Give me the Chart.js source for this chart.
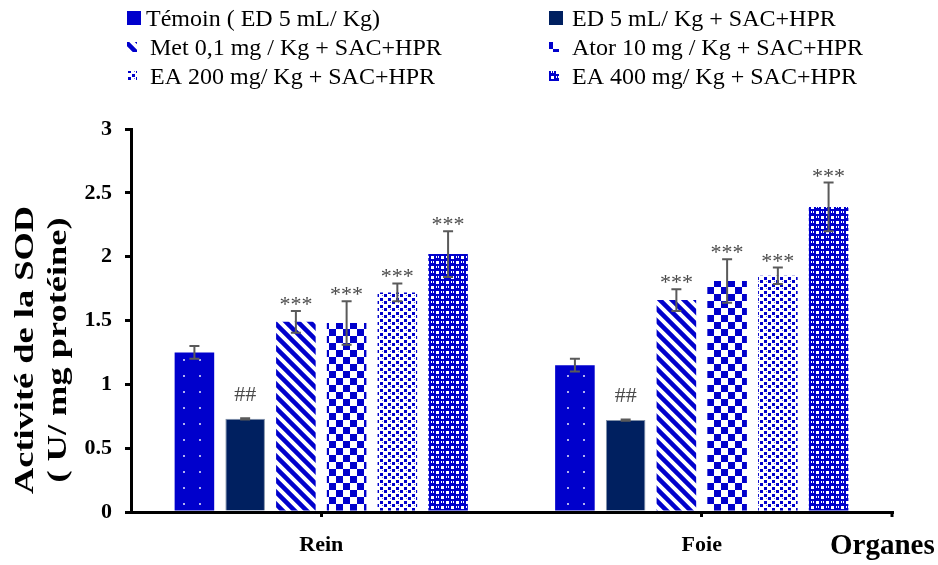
<!DOCTYPE html>
<html lang="fr">
<head>
    <meta charset="UTF-8">
    <title>Activité de la SOD</title>
    <script src="https://cdn.jsdelivr.net/npm/chart.js"></script>
    <style>
        body { margin: 0; background: #fff; }
        .chart-box { width: 938px; height: 565px; position: relative; }
    </style>
</head>
<body>
    <div class="chart-box">
        <canvas id="sodChart"></canvas>
    </div>

    <script>
        // Data
        const organes = ['Rein', 'Foie'];
        const groupLabels = [
            'Témoin ( ED 5 mL/ Kg)',
            'ED 5 mL/ Kg + SAC+HPR',
            'Met 0,1 mg / Kg + SAC+HPR',
            'Ator 10 mg / Kg + SAC+HPR',
            'EA 200 mg/ Kg + SAC+HPR',
            'EA 400 mg/ Kg + SAC+HPR'
        ];
        const temoin = [1.25, 1.15];
        const temoinErr = [0.05, 0.05];
        const edSacHpr = [0.73, 0.72];
        const edSacHprErr = [0.005, 0.005];
        const met = [1.49, 1.66];
        const metErr = [0.085, 0.085];
        const ator = [1.48, 1.81];
        const atorErr = [0.17, 0.17];
        const ea200 = [1.72, 1.85];
        const ea200Err = [0.07, 0.065];
        const ea400 = [2.02, 2.39];
        const ea400Err = [0.18, 0.19];
        const signif = ['', '##', '***', '***', '***', '***'];

        const BLUE = '#0000cc';
        const NAVY = '#002060';
        const SERIF = '"Liberation Serif", "Times New Roman", serif';

        // --- fill patterns ---
        function tile(w, h, draw) {
            const c = document.createElement('canvas');
            c.width = w;
            c.height = h;
            const g = c.getContext('2d');
            draw(g);
            return g.createPattern(c, 'repeat');
        }

        const dotPattern = tile(16, 16, g => {
            g.fillStyle = BLUE;
            g.fillRect(0, 0, 16, 16);
            g.fillStyle = '#b0b0f0';
            g.fillRect(7, 7, 2, 2);
        });

        const stripePattern = tile(12, 12, g => {
            g.fillStyle = '#fff';
            g.fillRect(0, 0, 12, 12);
            g.strokeStyle = BLUE;
            g.lineWidth = 4.5;
            g.beginPath();
            g.moveTo(-6, -6); g.lineTo(18, 18);
            g.moveTo(-6, 6); g.lineTo(6, 18);
            g.moveTo(6, -6); g.lineTo(18, 6);
            g.stroke();
        });

        const checkPattern = tile(14, 14, g => {
            g.fillStyle = '#fff';
            g.fillRect(0, 0, 14, 14);
            g.fillStyle = BLUE;
            g.fillRect(0, 0, 7, 7);
            g.fillRect(7, 7, 7, 7);
        });

        const confettiPattern = tile(8, 7, g => {
            g.fillStyle = '#fff';
            g.fillRect(0, 0, 8, 7);
            g.fillStyle = BLUE;
            g.fillRect(0, 0, 3, 3);
            g.fillRect(4, 4, 3, 3);
            g.fillStyle = '#7070e0';
            g.fillRect(6, 1, 1, 1);
        });

        const weavePattern = tile(10, 10, g => {
            g.fillStyle = BLUE;
            g.fillRect(0, 0, 10, 10);
            g.fillStyle = '#fff';
            g.fillRect(6, 1, 3, 3);
            g.fillRect(1, 6, 3, 3);
            g.fillRect(1, 1, 1, 2);
            g.fillRect(3, 1, 1, 2);
            g.fillRect(6, 6, 1, 2);
            g.fillRect(8, 6, 1, 2);
        });

        const fills = [dotPattern, NAVY, stripePattern, checkPattern, confettiPattern, weavePattern];
        const seriesValues = [temoin, edSacHpr, met, ator, ea200, ea400];
        const seriesErrors = [temoinErr, edSacHprErr, metErr, atorErr, ea200Err, ea400Err];

        const datasets = seriesValues.map((vals, i) => ({
            label: groupLabels[i],
            data: vals,
            errors: seriesErrors[i],
            backgroundColor: fills[i],
            borderColor: i === 1 ? '#8090a8' : 'rgba(0,0,0,0)',
            borderWidth: i === 1 ? 1 : 0,
            categoryPercentage: 0.8,
            barPercentage: 0.78
        }));

        // Error bars plus significance marks above each bar
        const errorBarPlugin = {
            id: 'errorBars',
            afterDatasetsDraw(chart) {
                const ctx = chart.ctx;
                const y = chart.scales.y;
                ctx.save();
                chart.data.datasets.forEach((ds, i) => {
                    const meta = chart.getDatasetMeta(i);
                    meta.data.forEach((bar, j) => {
                        const v = ds.data[j];
                        const e = ds.errors[j];
                        const top = y.getPixelForValue(v + e);
                        const bot = y.getPixelForValue(v - e);
                        ctx.strokeStyle = '#5a5a5a';
                        ctx.lineWidth = 2;
                        ctx.beginPath();
                        ctx.moveTo(bar.x, top); ctx.lineTo(bar.x, bot);
                        ctx.moveTo(bar.x - 5, top); ctx.lineTo(bar.x + 5, top);
                        ctx.moveTo(bar.x - 5, bot); ctx.lineTo(bar.x + 5, bot);
                        ctx.stroke();

                        if (signif[i]) {
                            ctx.fillStyle = '#4a4a4a';
                            ctx.font = '22px ' + SERIF;
                            ctx.textAlign = 'center';
                            ctx.textBaseline = 'alphabetic';
                            const gap = signif[i] === '##' ? 17 : 0;
                            ctx.fillText(signif[i], bar.x, top - gap);
                        }
                    });
                });
                ctx.restore();
            }
        };

        // Two-column legend, axis title and "Organes" label
        const decorPlugin = {
            id: 'decor',
            afterDraw(chart) {
                const ctx = chart.ctx;
                const area = chart.chartArea;
                ctx.save();

                // legend
                const swatchX = [127, 549];
                const textX = [[146, 150, 150], [572, 572, 572]];
                const baselines = [26, 55, 84];
                ctx.font = '24px ' + SERIF;
                ctx.textBaseline = 'alphabetic';
                ctx.textAlign = 'left';
                chart.data.datasets.forEach((ds, i) => {
                    const col = i % 2;
                    const row = Math.floor(i / 2);
                    const size = i < 2 ? 14 : 10;
                    const sy = baselines[row] - 8 - size / 2;
                    ctx.fillStyle = i === 0 ? BLUE : ds.backgroundColor;
                    ctx.fillRect(swatchX[col], sy, size, size);
                    ctx.fillStyle = '#000';
                    ctx.fillText(ds.label, textX[col][row], baselines[row]);
                });

                // y axis title (two lines, rotated and stretched like the source)
                ctx.font = 'bold 28px ' + SERIF;
                ctx.textAlign = 'center';
                ctx.translate(0, 350);
                ctx.rotate(-Math.PI / 2);
                ctx.scale(1.3, 1);
                ctx.fillText('Activité de la SOD', 0, 33);
                ctx.fillText('( U/ mg protéine)', 0, 66);
                ctx.setTransform(1, 0, 0, 1, 0, 0);

                // x axis title
                ctx.font = 'bold 29px ' + SERIF;
                ctx.textAlign = 'left';
                ctx.fillText('Organes', 830, 554);

                // tick at the right end of the x axis
                ctx.strokeStyle = '#000';
                ctx.lineWidth = 3;
                ctx.beginPath();
                ctx.moveTo(area.right, area.bottom);
                ctx.lineTo(area.right, area.bottom + 5);
                ctx.stroke();
                ctx.restore();
            }
        };

        const ctx = document.getElementById('sodChart').getContext('2d');
        const sodChart = new Chart(ctx, {
            type: 'bar',
            data: { labels: organes, datasets: datasets },
            options: {
                responsive: true,
                maintainAspectRatio: false,
                animation: false,
                layout: { padding: { top: 129, right: 46, left: 0, bottom: 0 } },
                plugins: {
                    legend: { display: false },
                    tooltip: { enabled: false }
                },
                scales: {
                    x: {
                        afterFit: scale => { scale.height = 53; },
                        grid: {
                            offset: false,
                            drawOnChartArea: false,
                            tickLength: 5,
                            lineWidth: 3,
                            color: '#000'
                        },
                        border: { color: '#000', width: 3 },
                        ticks: {
                            color: '#000',
                            padding: 15,
                            font: { family: SERIF, size: 22, weight: 'bold' }
                        }
                    },
                    y: {
                        min: 0,
                        max: 3,
                        afterFit: scale => { scale.width = 131; },
                        grid: {
                            drawOnChartArea: false,
                            tickLength: 6,
                            lineWidth: 3,
                            color: '#000'
                        },
                        border: { color: '#000', width: 3 },
                        ticks: {
                            stepSize: 0.5,
                            color: '#000',
                            padding: 13,
                            callback: v => String(v),
                            font: { family: SERIF, size: 22, weight: 'bold' }
                        }
                    }
                }
            },
            plugins: [errorBarPlugin, decorPlugin]
        });
    </script>
</body>
</html>
